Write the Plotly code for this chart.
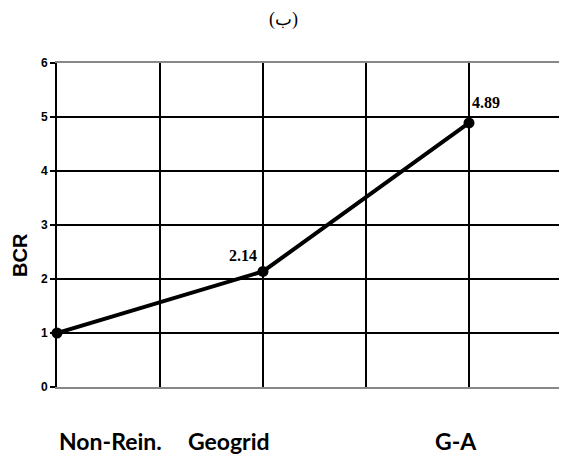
import plotly.graph_objects as go

# data
x_pos = [0, 2, 4]
bcr = [1.0, 2.14, 4.89]
value_labels = ["", "2.14", "4.89"]
categories = ["Non-Rein.", "Geogrid", "G-A"]
category_x = [0.52, 1.67, 3.87]
y_ticks = [0, 1, 2, 3, 4, 5, 6]
y_tick_labels = ["0", "1", "2", "3", "4", "5", "6"]

W, H = 567, 454
L, R, T, B = 49, 0, 55, 75
pw, ph = W - L - R, H - T - B
UNIT = 103.0  # px per x unit


def py(v):  # figure pixel y -> paper
    return (H - B - v) / ph


def px(v):
    return (v - L) / pw


fig = go.Figure()
fig.add_trace(go.Scatter(
    x=x_pos, y=bcr, mode="lines+markers",
    line=dict(color="black", width=4),
    marker=dict(color="black", size=11),
    cliponaxis=False, showlegend=False,
))

annotations = []
for xv, yv, t in zip(x_pos, bcr, value_labels):
    if not t:
        continue
    left = xv < 3
    annotations.append(dict(
        x=xv, y=yv, xref="x", yref="y", text="<b>" + t + "</b>", showarrow=False,
        xanchor="right" if left else "left", yanchor="bottom",
        xshift=-4 if left else 1, yshift=5 if left else 10,
        font=dict(family="Liberation Serif", size=16, color="black"),
    ))
for cx, c in zip(category_x, categories):
    annotations.append(dict(
        x=cx, y=py(433), xref="x", yref="paper", text="<b>" + c + "</b>", showarrow=False,
        xanchor="center", yanchor="middle",
        font=dict(family="Lato", size=23, color="black"),
    ))
annotations.append(dict(
    x=px(12), y=py(247), xref="paper", yref="paper", xanchor="center", yanchor="middle",
    text="<b>BCR</b>", showarrow=False, textangle=-90,
    font=dict(family="Liberation Sans", size=20, color="black"),
))
annotations.append(dict(
    x=px(275), y=py(11), xref="paper", yref="paper", xanchor="center", yanchor="middle",
    text="(ب)", showarrow=False,
    font=dict(family="Liberation Serif, DejaVu Serif", size=18, color="black"),
))

fig.update_layout(
    width=W, height=H,
    margin=dict(l=L, r=R, t=T, b=B),
    plot_bgcolor="white", paper_bgcolor="white",
    annotations=annotations,
    xaxis=dict(
        range=[0, pw / UNIT], dtick=1, tick0=0,
        showgrid=True, gridcolor="black", gridwidth=1.5,
        showticklabels=False, zeroline=False,
        showline=True, linecolor="#888888", linewidth=2, mirror=True,
        ticks="",
    ),
    yaxis=dict(
        range=[0, 6], tickvals=y_ticks,
        ticktext=["<b>" + s + "</b>" for s in y_tick_labels],
        showgrid=True, gridcolor="black", gridwidth=1.5,
        zeroline=False, showline=True, linecolor="black", linewidth=2,
        ticks="outside", ticklen=5, tickcolor="black", tickwidth=1.5,
        tickfont=dict(family="Liberation Sans", size=12, color="black"),
    ),
)

fig.write_html("out.html")
